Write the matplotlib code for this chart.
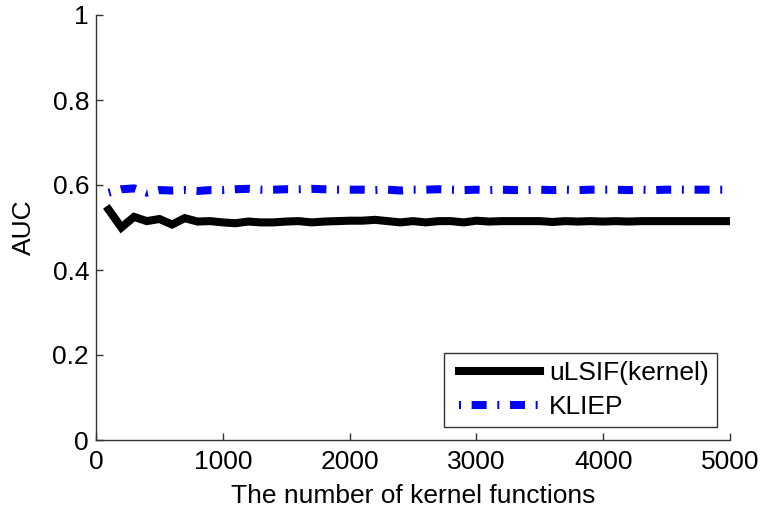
import matplotlib
matplotlib.use("Agg")
import matplotlib.pyplot as plt
from matplotlib.lines import Line2D
from matplotlib.legend_handler import HandlerLine2D

plt.rcParams['font.family'] = ['Liberation Sans', 'DejaVu Sans']
plt.rcParams['lines.scale_dashes'] = False

# Number of kernel basis functions
n_kernels = [100, 200, 300, 400, 500, 600, 700, 800, 900, 1000,
             1100, 1200, 1300, 1400, 1500, 1600, 1700, 1800, 1900, 2000,
             2100, 2200, 2300, 2400, 2500, 2600, 2700, 2800, 2900, 3000,
             3100, 3200, 3300, 3400, 3500, 3600, 3700, 3800, 3900, 4000,
             4100, 4200, 4300, 4400, 4500, 4600, 4700, 4800, 4900, 5000]

auc_ulsif = [0.542, 0.500, 0.525, 0.515, 0.520, 0.507, 0.522, 0.514, 0.515, 0.512,
             0.510, 0.514, 0.512, 0.512, 0.514, 0.515, 0.512, 0.514, 0.515, 0.516,
             0.516, 0.518, 0.515, 0.512, 0.515, 0.512, 0.515, 0.515, 0.512, 0.516,
             0.514, 0.515, 0.515, 0.515, 0.515, 0.513, 0.515, 0.514, 0.515, 0.514,
             0.515, 0.514, 0.515, 0.515, 0.515, 0.515, 0.515, 0.515, 0.515, 0.515]

auc_kliep = [0.582, 0.590, 0.592, 0.582, 0.588, 0.587, 0.588, 0.586, 0.588, 0.588,
             0.590, 0.591, 0.589, 0.589, 0.590, 0.590, 0.591, 0.590, 0.589, 0.589,
             0.589, 0.588, 0.589, 0.587, 0.589, 0.589, 0.590, 0.589, 0.588, 0.589,
             0.588, 0.589, 0.588, 0.588, 0.589, 0.588, 0.589, 0.588, 0.589, 0.589,
             0.589, 0.588, 0.589, 0.588, 0.589, 0.589, 0.589, 0.589, 0.589, 0.589]

x_ticks = [0, 1000, 2000, 3000, 4000, 5000]
y_ticks = [0, 0.2, 0.4, 0.6, 0.8, 1]
y_tick_labels = ['0', '0.2', '0.4', '0.6', '0.8', '1']

FS = 19

fig = plt.figure(figsize=(7.61, 5.12), dpi=100)
ax = fig.add_axes([96 / 761, 1 - 440 / 512, 634 / 761, 425 / 512])

ax.plot(n_kernels, auc_ulsif, color='black', linewidth=5.8,
        solid_joinstyle='miter', label='uLSIF(kernel)')
ax.plot(n_kernels, auc_kliep, color='#0000ff', linewidth=5.8,
        linestyle=(0, (1.4, 7.7, 10.8, 7.7)), dash_capstyle='butt',
        label='KLIEP')

ax.set_xlim(0, 5000)
ax.set_ylim(0, 1)
ax.set_xticks(x_ticks)
ax.set_yticks(y_ticks)
ax.set_yticklabels(y_tick_labels)

for side in ('top', 'right'):
    ax.spines[side].set_visible(False)
for side in ('left', 'bottom'):
    ax.spines[side].set_color('#333333')
    ax.spines[side].set_linewidth(1.0)

ax.tick_params(direction='in', length=5, width=1.0, colors='#333333',
               labelcolor='black', labelsize=FS)
ax.tick_params(axis='y', pad=5)
ax.tick_params(axis='x', pad=7)
ax.set_xlabel('The number of kernel functions', fontsize=FS, labelpad=7.5)
ax.set_ylabel('AUC', fontsize=FS, labelpad=12)

leg = ax.legend(loc='lower right', fontsize=FS,
                frameon=True, fancybox=False, handlelength=3.35,
                handletextpad=0.35, borderpad=0.3, labelspacing=0.38,
                borderaxespad=0.5,
                handler_map={Line2D: HandlerLine2D(xpad=0.3)})
leg.get_frame().set_edgecolor('black')
leg.get_frame().set_linewidth(1.0)

fig.savefig('out.png', dpi=100)
